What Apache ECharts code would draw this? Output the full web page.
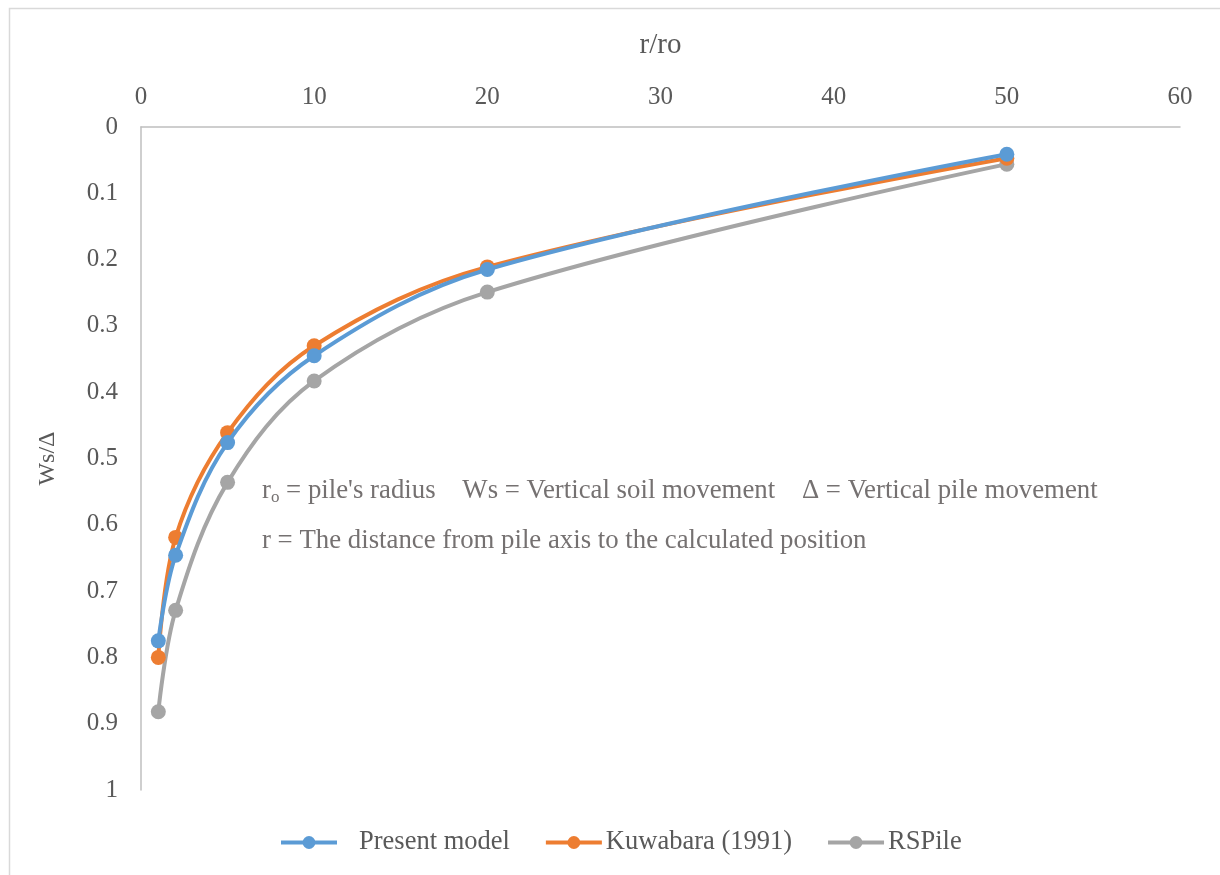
<!DOCTYPE html>
<html>
<head>
<meta charset="utf-8">
<script src="https://cdn.jsdelivr.net/npm/echarts@6/dist/echarts.min.js"></script>
<style>
html,body{margin:0;padding:0;background:#fff;}
#chart{width:1220px;height:875px;}
</style>
</head>
<body>
<div id="chart"></div>
<script>
const rRatio = [1, 2, 5, 10, 20, 50];
const presentModel = [0.775, 0.646, 0.476, 0.345, 0.215, 0.041];
const kuwabara = [0.800, 0.619, 0.461, 0.330, 0.211, 0.047];
const rsPile = [0.882, 0.729, 0.536, 0.383, 0.249, 0.056];
const seriesNames = ['Present model', 'Kuwabara (1991)', 'RSPile'];
const xTitle = 'r/ro';
const yTitle = 'Ws/Δ';

const colors = ['#5B9BD5', '#ED7D31', '#A5A5A5'];
const font = 'Liberation Serif';
const pair = arr => rRatio.map((x, i) => [x, arr[i]]);
const allData = [presentModel, kuwabara, rsPile];

const chart = echarts.init(document.getElementById('chart'));
chart.setOption({
  backgroundColor: '#fff',
  animation: false,
  textStyle: { fontFamily: font },
  grid: { left: 141, top: 127, right: 40, bottom: 85 },
  xAxis: {
    type: 'value', position: 'top', min: 0, max: 60, interval: 10,
    name: xTitle, nameLocation: 'middle', nameGap: 67,
    nameTextStyle: { fontFamily: font, fontSize: 29, color: '#595959' },
    axisLine: { show: true, lineStyle: { color: '#BFBFBF', width: 1.5 } },
    axisTick: { show: false },
    splitLine: { show: false },
    axisLabel: { fontFamily: font, fontSize: 25, color: '#595959', margin: 17 }
  },
  yAxis: {
    type: 'value', inverse: true, min: 0, max: 1, interval: 0.1,
    name: yTitle, nameLocation: 'middle', nameGap: 81, nameRotate: 90,
    nameTextStyle: { fontFamily: font, fontSize: 24, color: '#595959' },
    axisLine: { show: true, lineStyle: { color: '#BFBFBF', width: 1.5 } },
    axisTick: { show: false },
    splitLine: { show: false },
    axisLabel: { fontFamily: font, fontSize: 25, color: '#595959', margin: 23,
      formatter: v => String(+v.toFixed(1)) }
  },
  legend: {
    bottom: 14, left: 274, itemWidth: 56, itemHeight: 16, itemGap: 34,
    lineStyle: { width: 4 },
    textStyle: { fontFamily: font, fontSize: 26.5, color: '#595959', padding: [0, 0, 0, -1] },
    data: seriesNames.map((n, i) => ({ name: n,
      textStyle: i === 0 ? { padding: [0, 0, 0, 17] } : {} }))
  },
  series: seriesNames.map((n, i) => ({
    name: n, type: 'line', data: pair(allData[i]),
    smooth: 0.35,
    symbol: 'circle', symbolSize: 15,
    lineStyle: { color: colors[i], width: 4 },
    itemStyle: { color: colors[i] },
    z: 10 - i
  })),
  graphic: [
    { type: 'rect', left: 7, top: 6, shape: { width: 1240, height: 900 },
      style: { fill: 'none', stroke: '#D9D9D9', lineWidth: 1.5 }, silent: true },
    { type: 'text', left: 262, top: 477,
      style: { text: '{a|r}{s|o}{a| = pile\'s radius    Ws = Vertical soil movement    Δ = Vertical pile movement}',
        rich: { a: { fontFamily: font, fontSize: 26.8, fill: '#757171' },
                s: { fontFamily: font, fontSize: 17, fill: '#757171', padding: [14, 0, 0, 0] } } } },
    { type: 'text', left: 262, top: 527,
      style: { text: 'r = The distance from pile axis to the calculated position',
        font: '26.8px "Liberation Serif"', fill: '#757171' } }
  ]
});
</script>
</body>
</html>
